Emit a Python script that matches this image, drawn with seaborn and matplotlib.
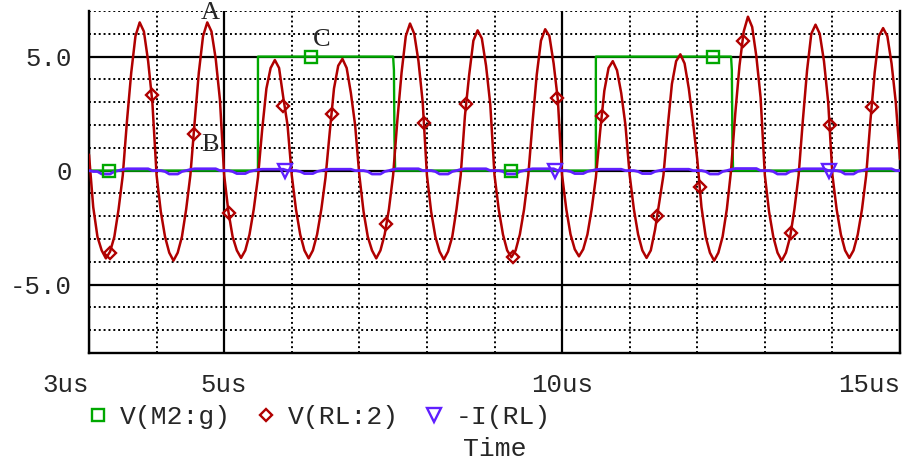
import numpy as np
import matplotlib
matplotlib.use("Agg")
import matplotlib.pyplot as plt
from matplotlib.ticker import MultipleLocator, FixedLocator
from matplotlib.lines import Line2D
import seaborn as sns

# ---------------- data ----------------
# V(RL:2): samples every 1/16 us, one row per microsecond (3us .. 14us), plus end value at 15us
v_rl_cycles = [
    [0.7, -1.6, -2.9, -3.5, -3.85, -3.55, -2.9, -1.7, -0.2, 2.2, 4.3, 5.9, 6.5, 6.1, 4.8, 3.0],
    [-0.2, -1.8, -2.9, -3.6, -3.95, -3.6, -2.9, -1.7, -0.2, 2.1, 4.3, 5.9, 6.5, 6.1, 4.9, 3.1],
    [-0.2, -1.8, -2.9, -3.5, -3.83, -3.5, -2.8, -1.7, -0.3, 1.8, 3.6, 4.5, 4.85, 4.5, 3.2, 2.0],
    [-0.2, -1.7, -2.8, -3.5, -3.85, -3.5, -2.8, -1.7, -0.3, 1.7, 3.6, 4.6, 4.9, 4.5, 3.4, 2.0],
    [-0.2, -1.8, -2.9, -3.5, -3.85, -3.5, -2.8, -1.7, -0.2, 2.2, 4.3, 5.9, 6.45, 6.0, 4.8, 3.0],
    [-0.2, -1.8, -2.9, -3.55, -3.9, -3.55, -2.9, -1.7, -0.2, 2.4, 4.2, 5.7, 6.15, 5.8, 4.6, 2.9],
    [-0.2, -1.7, -2.8, -3.5, -3.8, -3.5, -2.8, -1.7, -0.2, 2.1, 4.2, 5.7, 6.2, 5.9, 4.7, 3.1],
    [-0.2, -1.7, -2.8, -3.45, -3.76, -3.45, -2.8, -1.7, -0.3, 1.7, 3.5, 4.5, 4.8, 4.4, 3.4, 2.0],
    [-0.2, -1.7, -2.8, -3.5, -3.83, -3.5, -2.6, -1.4, -0.2, 1.9, 3.8, 4.8, 5.1, 4.7, 3.6, 2.1],
    [0.5, -1.6, -2.9, -3.6, -3.95, -3.6, -2.9, -1.7, 0.0, 2.5, 4.6, 6.1, 6.75, 6.3, 5.0, 3.2],
    [-0.2, -1.8, -2.9, -3.6, -3.95, -3.6, -2.9, -1.7, -0.2, 2.2, 4.4, 6.0, 6.4, 6.0, 4.8, 3.0],
    [-0.2, -1.7, -2.8, -3.5, -3.83, -3.5, -2.8, -1.7, -0.2, 2.2, 4.3, 5.9, 6.25, 5.9, 4.7, 3.0],
]
v_rl_end = [0.5]

# -I(RL): same sampling grid
i_rl_cycles = [
    [0.0, -0.04, -0.04, -0.15, -0.15, -0.15, -0.04, 0.0, 0.05, 0.08, 0.08, 0.08, 0.08, 0.08, 0.08, 0.0],
    [0.0, 0.0, -0.04, -0.15, -0.15, -0.15, -0.04, 0.0, 0.05, 0.08, 0.08, 0.08, 0.08, 0.08, 0.08, 0.0],
    [0.0, 0.0, -0.04, -0.13, -0.13, -0.13, -0.04, 0.0, 0.04, 0.06, 0.06, 0.06, 0.06, 0.06, 0.06, 0.0],
    [0.0, 0.0, -0.04, -0.13, -0.13, -0.13, -0.04, 0.0, 0.04, 0.06, 0.06, 0.06, 0.06, 0.06, 0.06, 0.0],
    [0.0, 0.0, -0.04, -0.15, -0.15, -0.15, -0.04, 0.0, 0.05, 0.08, 0.08, 0.08, 0.08, 0.08, 0.08, 0.0],
    [0.0, 0.0, -0.04, -0.15, -0.15, -0.15, -0.04, 0.0, 0.05, 0.08, 0.08, 0.08, 0.08, 0.08, 0.08, 0.0],
    [0.0, 0.0, -0.04, -0.15, -0.15, -0.15, -0.04, 0.0, 0.05, 0.08, 0.08, 0.08, 0.08, 0.08, 0.08, 0.0],
    [0.0, 0.0, -0.04, -0.13, -0.13, -0.13, -0.04, 0.0, 0.04, 0.06, 0.06, 0.06, 0.06, 0.06, 0.06, 0.0],
    [0.0, 0.0, -0.04, -0.13, -0.13, -0.13, -0.04, 0.0, 0.04, 0.06, 0.06, 0.06, 0.06, 0.06, 0.06, 0.0],
    [0.0, 0.0, -0.04, -0.15, -0.15, -0.15, -0.04, 0.0, 0.05, 0.09, 0.09, 0.09, 0.09, 0.09, 0.09, 0.0],
    [0.0, 0.0, -0.04, -0.15, -0.15, -0.15, -0.04, 0.0, 0.05, 0.08, 0.08, 0.08, 0.08, 0.08, 0.08, 0.0],
    [0.0, 0.0, -0.04, -0.15, -0.15, -0.15, -0.04, 0.0, 0.05, 0.08, 0.08, 0.08, 0.08, 0.08, 0.08, 0.0],
]
i_rl_end = [0.0]

sample_step_us = 1.0 / 16.0
t_start_us = 3.0

# V(M2:g): gate drive (time in us, volts)
gate_t = [3.0, 5.5, 5.5, 7.5, 7.512, 7.52, 7.53, 10.5, 10.5, 12.5, 12.512, 12.52, 12.53, 15.0]
gate_v = [0.0, 0.0, 5.0, 5.0, 4.4, 1.4, 0.0, 0.0, 5.0, 5.0, 4.4, 1.45, 0.0, 0.0]

# trace markers (as PSpice places them)
gate_mark_t = [3.3, 6.29, 9.25, 12.23]
gate_mark_v = [0.0, 5.0, 0.0, 5.0]
rl_mark_t = [3.31, 3.93, 4.55, 5.07, 5.87, 6.59, 7.40, 7.95, 8.58, 9.28, 9.93, 10.59, 11.40, 12.04, 12.67, 13.39, 13.96, 14.58]
rl_mark_v = [-3.6, 3.3, 1.6, -1.85, 2.85, 2.5, -2.33, 2.1, 2.9, -3.77, 3.2, 2.4, -2.0, -0.7, 5.7, -2.75, 2.0, 2.8]
i_mark_t = [5.9, 9.9, 13.95]
i_mark_v = [0.0, 0.0, 0.0]

labels = ["V(M2:g)", "V(RL:2)", "-I(RL)"]
x_ticks = [3, 5, 10, 15]
x_tick_labels = ["3us", "5us", "10us", "15us"]
y_ticks = [-5, 0, 5]
y_tick_labels = ["-5.0", "0", "5.0"]
annotations = [("A", 4.79, 6.93), ("B", 4.79, 1.14), ("C", 6.45, 5.75)]

# ---------------- figure ----------------
sns.set_style("white")
plt.rcParams["font.family"] = ["Liberation Mono", "DejaVu Sans Mono"]

C_GATE = "#00a800"
C_RL = "#b00000"
C_I = "#6020ff"

fig = plt.figure(figsize=(9.05, 4.61), dpi=100)
ax = fig.add_axes([89 / 905, 1 - 353 / 461, (900 - 89) / 905, (353 - 11) / 461])

v_rl = np.concatenate([np.concatenate(v_rl_cycles), v_rl_end])
i_rl = np.concatenate([np.concatenate(i_rl_cycles), i_rl_end])
t_rl = t_start_us + np.arange(len(v_rl)) * sample_step_us

sns.lineplot(x=gate_t, y=gate_v, ax=ax, color=C_GATE, lw=1.7, estimator=None, sort=False, zorder=3)
sns.lineplot(x=t_rl, y=v_rl, ax=ax, color=C_RL, lw=1.8, estimator=None, sort=False, zorder=4)
sns.lineplot(x=t_rl, y=i_rl, ax=ax, color=C_I, lw=2.0, estimator=None, sort=False, zorder=5)

ax.plot(gate_mark_t, gate_mark_v, ls="none", marker="s", ms=9, mfc="none", mec=C_GATE, mew=1.7, zorder=6)
ax.plot(rl_mark_t, rl_mark_v, ls="none", marker="D", ms=6.3, mfc="none", mec=C_RL, mew=1.7, zorder=6)
ax.plot(i_mark_t, i_mark_v, ls="none", marker="v", ms=9.5, mfc="none", mec=C_I, mew=1.7, zorder=6)

ax.set_xlim(3, 15)
ax.set_ylim(-8, 7)

ax.xaxis.set_major_locator(FixedLocator(x_ticks))
ax.set_xticklabels(x_tick_labels)
ax.xaxis.set_minor_locator(MultipleLocator(1))
ax.yaxis.set_major_locator(FixedLocator(y_ticks))
ax.set_yticklabels(y_tick_labels)
ax.yaxis.set_minor_locator(MultipleLocator(1))

ax.grid(which="major", color="black", lw=1.6, ls="-", zorder=1)
ax.grid(which="minor", color="black", lw=1.4, ls=(0, (1, 1.5)), zorder=1)
ax.set_axisbelow(True)

ax.tick_params(axis="both", which="major", length=8.5, width=1.6, color="black",
               labelsize=18.5, direction="out")
ax.tick_params(axis="x", which="major", pad=6)
ax.tick_params(axis="y", which="major", pad=4)
ax.tick_params(which="minor", length=0)

for side in ["left", "bottom", "right"]:
    ax.spines[side].set_visible(True)
    ax.spines[side].set_color("black")
    ax.spines[side].set_linewidth(1.7)
ax.spines["top"].set_visible(False)

xt = ax.get_xticklabels()
xt[0].set_horizontalalignment("right")
xt[-1].set_horizontalalignment("right")

for txt, tx, ty in annotations:
    ax.text(tx, ty, txt, ha="center", va="center", fontsize=19,
            family=["Liberation Serif", "DejaVu Serif"], zorder=7)

handles = [
    Line2D([], [], ls="none", marker="s", ms=9, mfc="none", mec=C_GATE, mew=1.7),
    Line2D([], [], ls="none", marker="D", ms=6.3, mfc="none", mec=C_RL, mew=1.7),
    Line2D([], [], ls="none", marker="v", ms=9.5, mfc="none", mec=C_I, mew=1.7),
]
fig.legend(handles, labels, loc="center left", bbox_to_anchor=(90 / 905, 1 - 417 / 461),
           ncol=3, frameon=False, borderpad=0, borderaxespad=0, handlelength=0.6,
           handletextpad=0.55, columnspacing=1.0, prop={"size": 19})

fig.text(495 / 905, 1 - 449 / 461, "Time", ha="center", va="center", fontsize=19)

fig.savefig("out.png", dpi=100)
